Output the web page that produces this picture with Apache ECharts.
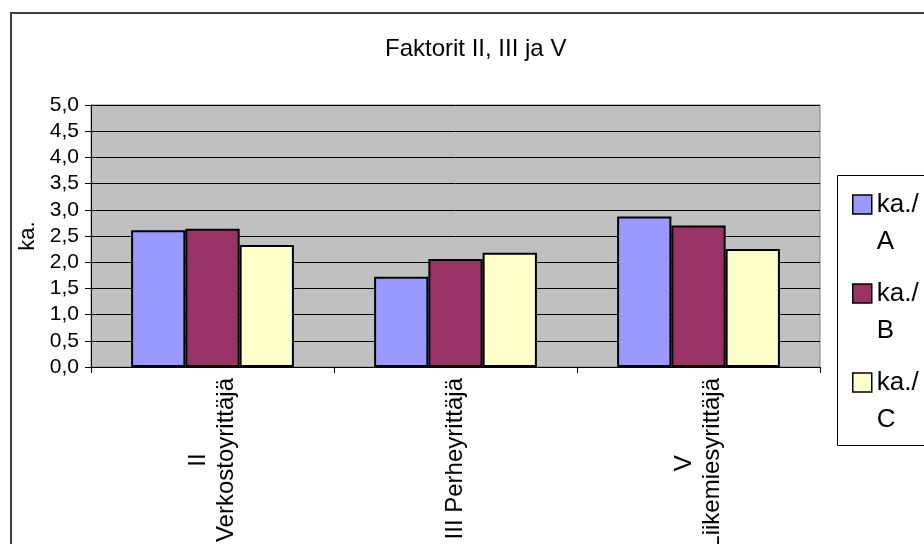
<!DOCTYPE html>
<html>
<head>
<meta charset="utf-8">
<script src="https://cdn.jsdelivr.net/npm/echarts@6/dist/echarts.min.js"></script>
<style>
  html, body { margin: 0; padding: 0; background: #fff; }
  #chart { width: 924px; height: 544px; }
</style>
</head>
<body>
<div id="chart"></div>
<script>
var categories = ['II\nVerkostoyrittäjä', 'III Perheyrittäjä', 'V\nLiikemiesyrittäjä']
var seriesNames = ['ka./ A', 'ka./ B', 'ka./ C']
var valuesA = [2.61, 1.72, 2.87]
var valuesB = [2.64, 2.06, 2.70]
var valuesC = [2.33, 2.18, 2.25]
var colors = ['#9999ff', '#993366', '#ffffcc']

var font = 'Liberation Sans, Arial, sans-serif'
var chart = echarts.init(document.getElementById('chart'))

function bar(name, data, color) {
  return {
    name: name,
    type: 'bar',
    data: data,
    barGap: '0%',
    barCategoryGap: '33%',
    itemStyle: { color: color, borderColor: '#000', borderWidth: 2 }
  }
}

chart.setOption({
  animation: false,
  textStyle: { fontFamily: font, color: '#000' },
  title: {
    text: 'Faktorit II, III ja V',
    left: 380,
    top: 32,
    textStyle: { fontFamily: font, fontSize: 24, fontWeight: 'normal', color: '#000' }
  },
  graphic: [
    {
      type: 'rect',
      shape: { x: 11, y: 13, width: 1000, height: 600 },
      style: { fill: 'none', stroke: '#404040', lineWidth: 2 },
      z: -10
    },
    {
      type: 'rect',
      shape: { x: 837.5, y: 175.5, width: 200, height: 270 },
      style: { fill: '#fff', stroke: '#000', lineWidth: 1 },
      z: -5
    }
  ],
  legend: {
    orient: 'vertical',
    left: 847,
    top: 144,
    itemWidth: 19,
    itemHeight: 19,
    itemGap: -22,
    icon: 'rect',
    data: seriesNames,
    formatter: function (n) { return n.replace(' ', '\n') },
    textStyle: {
      fontFamily: font,
      fontSize: 26,
      lineHeight: 37,
      color: '#000',
      padding: [37, 0, 0, 0],
      rich: {}
    },
    itemStyle: { borderColor: '#000', borderWidth: 1.5 }
  },
  grid: {
    left: 91,
    right: 104,
    top: 105,
    bottom: 177,
    containLabel: false,
    outerBoundsMode: 'none',
    show: true,
    backgroundColor: '#c0c0c0',
    borderColor: '#808080',
    borderWidth: 1
  },
  xAxis: {
    type: 'category',
    data: categories,
    axisLine: { lineStyle: { color: '#000', width: 1 } },
    axisTick: { show: true, length: 6, lineStyle: { color: '#000' } },
    axisLabel: {
      rotate: 90,
      margin: 11,
      interval: 0,
      fontFamily: font,
      fontSize: 24,
      lineHeight: 28,
      color: '#000',
      formatter: function (v) {
        return v.split('\n').map(function (s) { return '{c|' + s + '}' }).join('\n')
      },
      rich: {
        c: { align: 'center', fontFamily: font, fontSize: 24, lineHeight: 28, color: '#000' }
      }
    }
  },
  yAxis: {
    type: 'value',
    min: 0,
    max: 5,
    interval: 0.5,
    name: 'ka.',
    nameLocation: 'middle',
    nameGap: 45,
    nameTextStyle: { fontFamily: font, fontSize: 22, color: '#000' },
    axisLine: { show: true, lineStyle: { color: '#000', width: 1 } },
    axisTick: { show: true, length: 6, lineStyle: { color: '#000' } },
    splitLine: { lineStyle: { color: '#000', width: 1 } },
    axisLabel: {
      margin: 12,
      fontFamily: font,
      fontSize: 21,
      color: '#000',
      formatter: function (v) { return v.toFixed(1).replace('.', ',') }
    }
  },
  series: [
    bar(seriesNames[0], valuesA, colors[0]),
    bar(seriesNames[1], valuesB, colors[1]),
    bar(seriesNames[2], valuesC, colors[2])
  ]
})
</script>
</body>
</html>
